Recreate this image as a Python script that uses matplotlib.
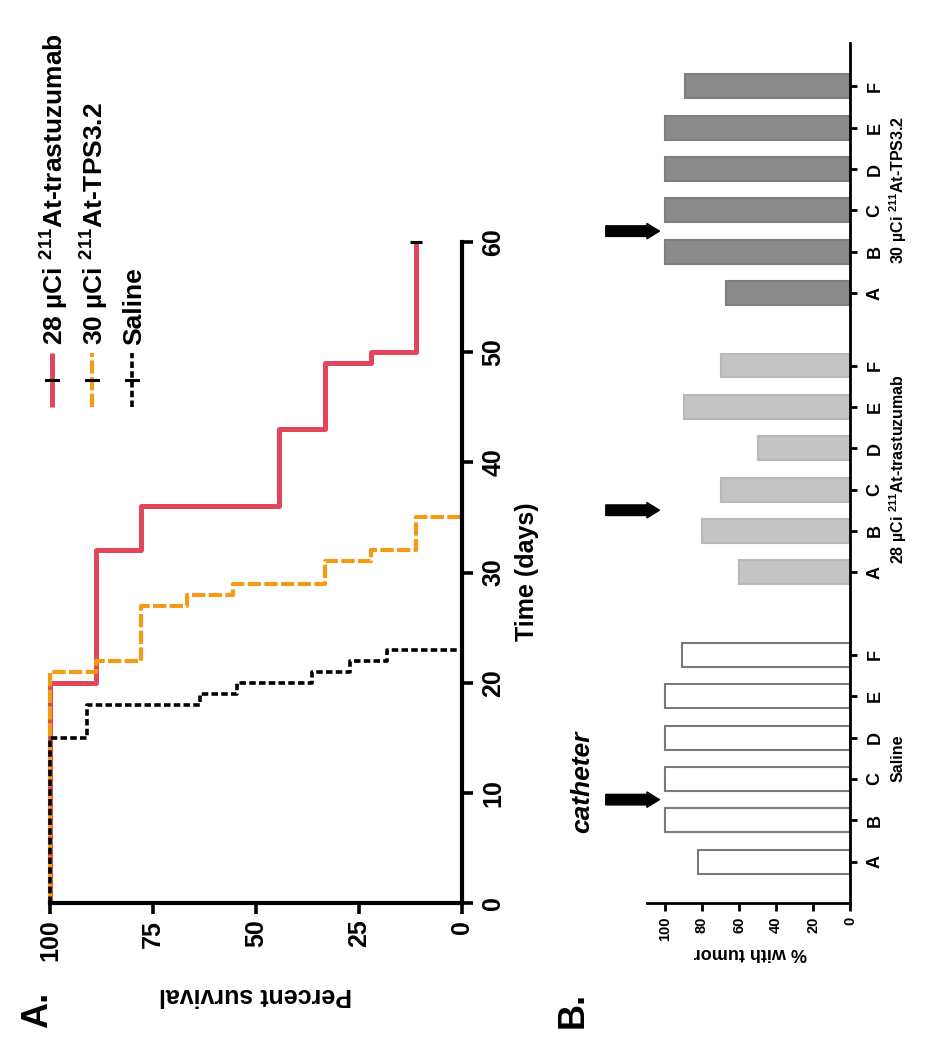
import numpy as np
import matplotlib
matplotlib.use('Agg')
import matplotlib.pyplot as plt

plt.rcParams['font.family'] = ['Liberation Sans', 'DejaVu Sans']
plt.rcParams['font.weight'] = 'bold'
plt.rcParams['mathtext.fontset'] = 'custom'
plt.rcParams['mathtext.rm'] = 'Liberation Sans:bold'
plt.rcParams['mathtext.bf'] = 'Liberation Sans:bold'

# --- Panel A: Kaplan-Meier survival (days, % survival) ---
red_days = [0, 20, 32, 36, 43, 49, 50, 60]
red_surv = [100, 88.9, 77.8, 44.4, 33.3, 22.2, 11.1, 11.1]
orange_days = [0, 21, 22, 27, 28, 29, 31, 32, 35]
orange_surv = [100, 88.9, 77.8, 66.7, 55.6, 33.3, 22.2, 11.1, 0]
saline_days = [0, 15, 18, 19, 20, 21, 22, 23]
saline_surv = [100, 90.9, 63.6, 54.5, 36.4, 27.3, 18.2, 0]
legend_labels = ["28 µCi $^{\\mathbf{211}}$At-trastuzumab",
                 "30 µCi $^{\\mathbf{211}}$At-TPS3.2", "Saline"]
surv_ticks = [100, 75, 50, 25, 0]
time_ticks = [0, 10, 20, 30, 40, 50, 60]

# --- Panel B: % with tumor per mouse ---
mice = ["A", "B", "C", "D", "E", "F"]
groups = ["Saline", "28 µCi $^{\\mathbf{211}}$At-trastuzumab",
          "30 µCi $^{\\mathbf{211}}$At-TPS3.2"]
saline_tumor = [82, 100, 100, 100, 100, 91]
trast_tumor = [60, 80, 70, 50, 90, 70]
tps_tumor = [67, 100, 100, 100, 100, 89]
tumor_ticks = [0, 20, 40, 60, 80, 100]

W, H = 939, 1050
fig = plt.figure(figsize=(W / 100, H / 100), dpi=100)


def px_axes(left, top, right, bottom):
    return fig.add_axes([left / W, 1 - bottom / H, (right - left) / W, (bottom - top) / H])


def ftext(x, y, s, **kw):
    fig.text(x / W, 1 - y / H, s, **kw)


def km_path(days, surv):
    xs = np.repeat(surv, 2)[:-1]
    ys = np.repeat(days, 2)[1:]
    return xs, ys


# ---------------- Panel A (drawn turned 90 degrees) ----------------
axA = px_axes(50, 242, 462, 903)
red = '#e2465a'
orange = '#f39a16'
styles = [
    dict(color=red, lw=3.6, ls='-'),
    dict(color=orange, lw=3.0, ls=(0, (3.2, 0.8))),
    dict(color='black', lw=2.6, ls=(0, (1.8, 0.9))),
]
for (d, s), st in zip([(red_days, red_surv), (orange_days, orange_surv),
                       (saline_days, saline_surv)], styles):
    xs, ys = km_path(d, s)
    axA.plot(xs, ys, clip_on=False, solid_capstyle='butt', **st)
axA.plot([red_surv[-1]], [red_days[-1]], marker='_', ms=9, mew=2.2,
         color='black', clip_on=False)

axA.set_xlim(100, 0)
axA.set_ylim(0, 60)
axA.spines['top'].set_visible(False)
axA.spines['left'].set_visible(False)
axA.spines['bottom'].set_linewidth(3)
axA.spines['right'].set_linewidth(3)
axA.yaxis.tick_right()
axA.set_xticks(surv_ticks)
axA.set_yticks(time_ticks)
axA.set_yticklabels([str(v) for v in time_ticks], rotation=90, va='center',
                    fontsize=18, fontweight='bold')
axA.set_xticklabels([str(v) for v in surv_ticks], rotation=90, ha='center',
                    fontsize=18, fontweight='bold')
axA.tick_params(direction='out', length=8, width=2.6, pad=4)
axA.tick_params(axis='y', pad=6)

ftext(256, 995, "Percent survival", rotation=180, ha='center', va='center',
      fontsize=18, fontweight='bold')
ftext(527, 572, "Time (days)", rotation=90, ha='center', va='center',
      fontsize=18, fontweight='bold')
ftext(38, 1010, "A.", rotation=90, ha='center', va='center', fontsize=26,
      fontweight='bold')

# legend, turned as well
for i, (lab, st) in enumerate(zip(legend_labels, styles)):
    x = 52 + 40 * i
    fig.add_artist(plt.Line2D([x / W, x / W], [1 - 407 / H, 1 - 353 / H],
                              transform=fig.transFigure, solid_capstyle='butt', **st))
    fig.add_artist(plt.Line2D([(x - 6) / W, (x + 6) / W], [1 - 380 / H, 1 - 380 / H],
                              transform=fig.transFigure, color='black', lw=2.2))
    ftext(x + 2, 345, lab, rotation=90, ha='center', va='bottom', fontsize=19,
          fontweight='bold')

# ---------------- Panel B (drawn turned 90 degrees) ----------------
axB = px_axes(646.5, 43, 850, 903)
group_starts = [0, 7, 13.75]
fills = ['white', '#c4c4c4', '#8a8a8a']
edges = ['#7a7a7a', '#b8b8b8', '#7e7e7e']
all_pos, all_lab = [], []
for g, vals in enumerate([saline_tumor, trast_tumor, tps_tumor]):
    pos = group_starts[g] + np.arange(len(mice))
    axB.barh(pos, vals, height=0.58, color=fills[g], edgecolor=edges[g],
             linewidth=1.5)
    all_pos += list(pos)
    all_lab += mice
    axB.text(1.236, pos.mean(), groups[g], transform=axB.get_yaxis_transform(),
             rotation=90, ha='center', va='center', fontsize=11.5,
             fontweight='bold')
    axB.annotate('', xy=(103, pos[0] + 1.5), xytext=(132, pos[0] + 1.5),
                 annotation_clip=False,
                 arrowprops=dict(arrowstyle='simple,head_length=0.45,head_width=0.55,tail_width=0.38',
                                 color='black', shrinkA=0, shrinkB=0,
                                 mutation_scale=20))

axB.set_xlim(110, 0)
axB.set_ylim(-1, 19.8)
axB.yaxis.tick_right()
axB.set_yticks(all_pos)
axB.set_yticklabels(all_lab, rotation=90, va='center', fontsize=13,
                    fontweight='bold')
axB.set_xticks(tumor_ticks)
axB.set_xticklabels([str(v) for v in tumor_ticks], rotation=90, ha='center',
                    fontsize=10.5, fontweight='bold')
axB.tick_params(axis='y', direction='out', length=5, width=2, pad=7)
axB.tick_params(axis='x', direction='out', length=6, width=2, pad=4)
for sp in axB.spines.values():
    sp.set_visible(False)
axB.axvline(0, color='black', lw=2, clip_on=False)
axB.axhline(-1, color='black', lw=2, clip_on=False)

ftext(750, 953, "% with tumor", rotation=180, ha='center', va='center',
      fontsize=13, fontweight='bold')
ftext(582, 782, "catheter", rotation=90, ha='center', va='center',
      fontsize=19, fontweight='bold', fontstyle='italic')
ftext(573, 1010, "B.", rotation=90, ha='center', va='center', fontsize=26,
      fontweight='bold')

fig.savefig('out.png', dpi=100)
